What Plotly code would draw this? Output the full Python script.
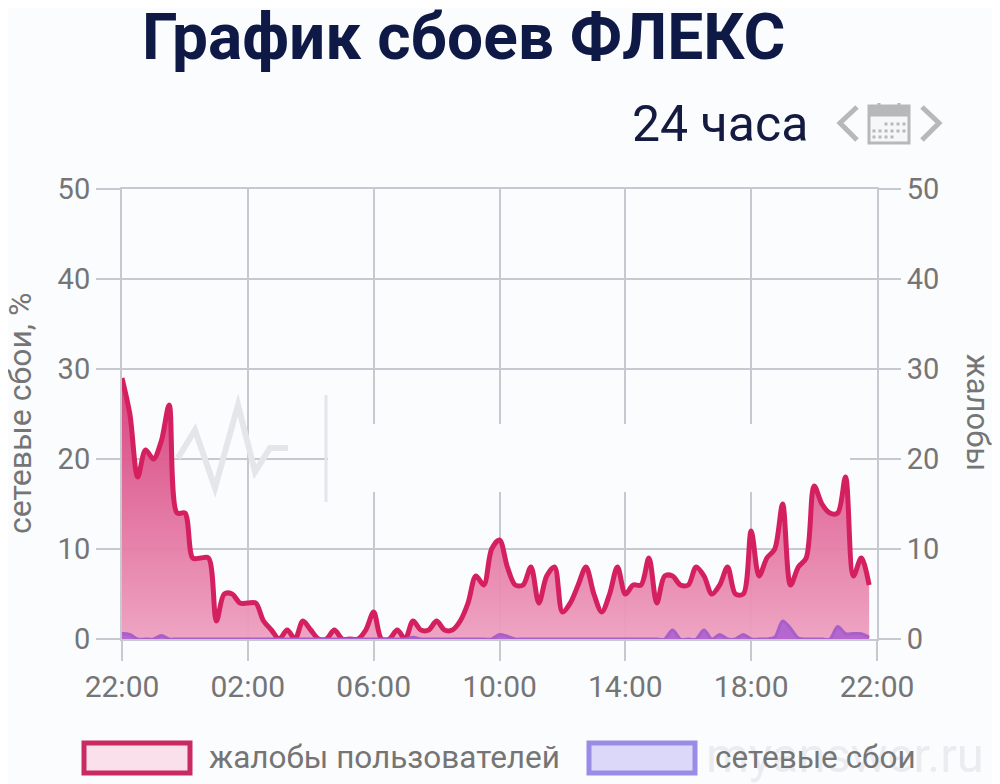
import plotly.graph_objects as go
import pandas as pd

W, H = 1000, 784
PAGE = 8  # the page body's margin
L, R, T, B = 122, 877, 189, 639

TITLE = "График сбоев ФЛЕКС"
PERIOD = "24 часа"
LEFT_TITLE = "сетевые сбои, %"
RIGHT_TITLE = "жалобы"
LEGEND_A = "жалобы пользователей"
LEGEND_B = "сетевые сбои"
WATERMARK = "myanswer.ru"

START = "2021-01-01 22:00"
END = "2021-01-02 22:00"
STEP = "15min"

complaints = [29, 25, 18, 21, 20, 22, 26, 14, 14, 9, 9, 9, 2, 5, 5, 4, 4, 4, 2, 1,
              0, 1, 0, 2, 1, 0, 0, 1, 0, 0, 0, 1, 3, 0, 0, 1, 0, 2, 1, 1,
              2, 1, 1, 2, 4, 7, 6, 10, 11, 8, 6, 6, 8, 4, 7, 8, 3, 4, 6, 8,
              5, 3, 5, 8, 5, 6, 6, 9, 4, 7, 7, 6, 6, 8, 7, 5, 6, 8, 5, 5,
              12, 7, 9, 10, 15, 6, 8, 9, 17, 15, 14, 14, 18, 7, 9, 6]
network = [0.6, 0.5, 0, 0, 0, 0.4, 0, 0, 0, 0, 0, 0, 0, 0, 0, 0, 0, 0, 0, 0,
           0, 0, 0, 0, 0, 0, 0, 0, 0, 0, 0, 0, 0, 0, 0, 0, 0, 0.2, 0, 0,
           0, 0, 0, 0, 0, 0, 0, 0, 0.5, 0.3, 0, 0, 0, 0, 0, 0, 0, 0, 0, 0,
           0, 0, 0, 0, 0, 0, 0, 0, 0, 0, 1, 0, 0, 0, 1, 0, 0.5, 0, 0, 0.5,
           0, 0, 0, 0.2, 2, 1.2, 0.1, 0, 0, 0, 0, 1.4, 0.6, 0.6, 0.6, 0.2]
y_ticks = [0, 10, 20, 30, 40, 50]

times = pd.date_range(START, periods=len(complaints), freq=STEP)
t0, t1 = pd.Timestamp(START), pd.Timestamp(END)

BG = "#fbfcfe"
GRID = "#c6c9cf"
TEXT = "#757575"
NAVY = "#0e1a45"
ICON = "#b8b8b8"
FONT = "Roboto"


def xf(x):
    return (x - L) / (R - L)


def yf(y):
    return (B - y) / (B - T)


def xd(x, sep=" "):
    return (t0 + (t1 - t0) * xf(x)).strftime(f"%Y-%m-%d{sep}%H:%M:%S")


def yd(y):
    return 50 * yf(y)


def poly_paper(points):
    return "M" + " L".join(f"{xf(x):.5f},{yf(y):.5f}" for x, y in points)


def poly_data(points):
    return "M" + " L".join(f"{xd(x, '_')},{yd(y):.3f}" for x, y in points)


fig = go.Figure()
fig.add_trace(go.Scatter(
    x=times, y=complaints, name=LEGEND_A, yaxis="y", mode="lines",
    line=dict(color="#d4205f", width=5, shape="spline", smoothing=0.9),
    fill="tozeroy",
    fillgradient=dict(type="vertical",
                      colorscale=[[0, "rgba(238,160,192,0.95)"], [1, "rgba(214,60,122,0.95)"]]),
))
fig.add_trace(go.Scatter(
    x=times, y=network, name=LEGEND_B, yaxis="y2", mode="lines",
    line=dict(color="#a660c8", width=3, shape="spline", smoothing=0.9),
    fill="tozeroy", fillcolor="#b566cf",
))

shapes = []
dsh = dict(xref="x", yref="y", layer="between")
# Region where the source image's gridlines are erased
shapes.append(dict(type="rect", x0=xd(328), x1=xd(850), y0=yd(492), y1=yd(424),
                   fillcolor=BG, line_width=0, **dsh))
# Faint logo behind the plot
shapes.append(dict(type="path",
                   path=poly_data([(178, 458), (195, 430), (215, 488), (238, 405), (255, 472), (270, 448), (288, 448)]),
                   line=dict(color="#e3e7ea", width=6), **dsh))
shapes.append(dict(type="line", x0=xd(326), x1=xd(326), y0=yd(395), y1=yd(502),
                   line=dict(color="#e2e5e9", width=3), **dsh))

psh = dict(xref="paper", yref="paper")
# Chevrons
for pts in ([(857, 107), (840, 123), (857, 140)], [(922, 107), (939, 123), (922, 140)]):
    shapes.append(dict(type="path", line=dict(color=ICON, width=5), path=poly_paper(pts), **psh))
# Calendar
shapes.append(dict(type="rect", x0=xf(869), x1=xf(909), y0=yf(106), y1=yf(143),
                   line=dict(color=ICON, width=3), fillcolor="#f6f7f9", **psh))
shapes.append(dict(type="rect", x0=xf(869), x1=xf(909), y0=yf(106), y1=yf(116),
                   line=dict(color=ICON, width=1), fillcolor=ICON, **psh))
for rx in (879, 899):
    shapes.append(dict(type="line", x0=xf(rx), x1=xf(rx), y0=yf(103), y1=yf(112),
                       line=dict(color=ICON, width=3), **psh))
for row_y, cols in ((124, (886, 892, 898, 904)), (131, (874, 880, 886, 892, 898, 904)), (137, (874, 880, 886, 892))):
    for cx in cols:
        shapes.append(dict(type="rect", x0=xf(cx - 1.5), x1=xf(cx + 1.5), y0=yf(row_y - 1.5), y1=yf(row_y + 1.5),
                           line_width=0, fillcolor=ICON, **psh))
# Legend swatches
shapes.append(dict(type="rect", x0=xf(84), x1=xf(190), y0=yf(743), y1=yf(773),
                   line=dict(color="#c92a62", width=5), fillcolor="#f9e0ea", **psh))
shapes.append(dict(type="rect", x0=xf(589), x1=xf(695), y0=yf(743), y1=yf(773),
                   line=dict(color="#9a8be6", width=5), fillcolor="#dcd8fa", **psh))

ann = [
    dict(text=f"<b>{TITLE}</b>", x=xf(463), y=yf(38), font=dict(size=64, color=NAVY, family=FONT)),
    dict(text=PERIOD, x=xf(720), y=yf(124), font=dict(size=50, color="#141a40", family=FONT)),
    dict(text=WATERMARK, x=xf(845), y=yf(755), font=dict(size=49, color="#ececf0", family=FONT)),
    dict(text=LEGEND_A, x=xf(207), y=yf(757), xanchor="left", font=dict(size=31.5, color=TEXT, family=FONT)),
    dict(text=LEGEND_B, x=xf(713), y=yf(757), xanchor="left", font=dict(size=31.5, color=TEXT, family=FONT)),
    dict(text=RIGHT_TITLE, x=xf(978), y=yf(412), textangle=90, font=dict(size=31, color=TEXT, family=FONT)),
    dict(text=LEFT_TITLE, x=xf(20), y=yf(413), textangle=-90, font=dict(size=32, color=TEXT, family=FONT)),
]
for a in ann:
    a.update(xref="paper", yref="paper", showarrow=False)
    a.setdefault("xanchor", "center")
    a.setdefault("yanchor", "middle")

common_y = dict(range=[0, 50], tickmode="array", tickvals=y_ticks, ticks="outside",
                tickwidth=2, tickcolor=GRID, tickfont=dict(size=29, color=TEXT, family=FONT),
                zeroline=False, showline=True, linecolor=GRID, linewidth=2)

fig.update_layout(
    width=W - PAGE, height=H - PAGE, autosize=False,
    margin=dict(l=L - PAGE, r=W - R, t=T - PAGE, b=H - B, pad=0),
    paper_bgcolor=BG, plot_bgcolor=BG,
    showlegend=False,
    shapes=shapes, annotations=ann,
    xaxis=dict(type="date", range=[START, END], tick0=START, dtick=4 * 3600 * 1000, tickformat="%H:%M",
               showgrid=True, gridcolor=GRID, gridwidth=2, ticks="outside", ticklen=20, tickwidth=2,
               tickcolor=GRID, tickfont=dict(size=30, color=TEXT, family=FONT), zeroline=False,
               showline=True, linecolor=GRID, linewidth=2, mirror=True),
    yaxis=dict(side="right", showgrid=True, gridcolor=GRID, gridwidth=2, ticklen=22, **common_y),
    yaxis2=dict(side="left", overlaying="y", showgrid=False, ticklen=24, **common_y),
)
fig.write_html("out.html")
